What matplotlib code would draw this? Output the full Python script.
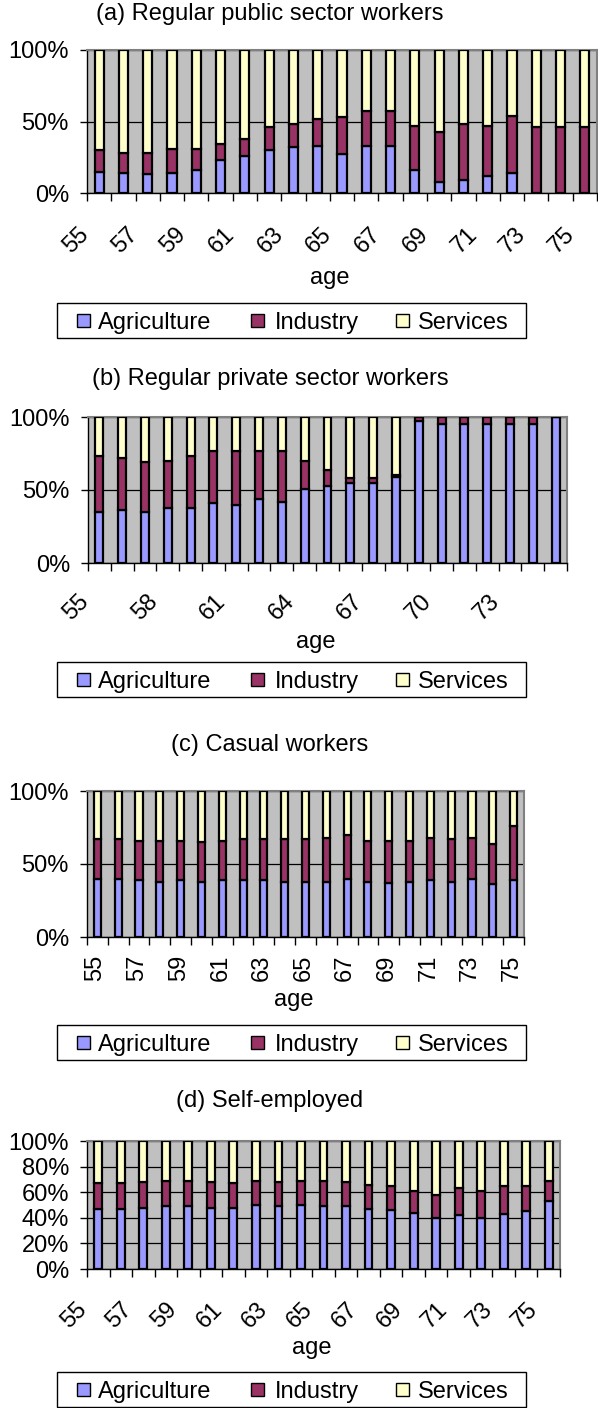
import numpy as np
import matplotlib
matplotlib.use("Agg")
from matplotlib import pyplot as plt
from matplotlib.patches import Rectangle
from matplotlib.transforms import ScaledTranslation, blended_transform_factory

plt.rcParams['font.family'] = ['Liberation Sans', 'DejaVu Sans']
plt.rcParams['font.size'] = 17

ages = list(range(55, 76))

# sector shares (%) by age, one set per type of worker
pub_agri = [15, 14, 13, 14, 16, 23, 26, 30, 32, 33, 27, 33, 33, 16, 8, 9, 12, 14, 0, 0, 0]
pub_ind = [15, 14, 15, 17, 15, 11, 12, 16, 16, 19, 26, 24, 24, 31, 35, 39, 35, 40, 46, 46, 46]
pub_serv = [70, 72, 72, 69, 69, 66, 62, 54, 52, 48, 47, 43, 43, 53, 57, 52, 53, 46, 54, 54, 54]

priv_agri = [35, 36, 35, 38, 38, 41, 40, 44, 42, 51, 53, 55, 55, 59, 97, 95, 95, 95, 95, 95, 100]
priv_ind = [38, 36, 34, 32, 35, 36, 37, 33, 35, 19, 11, 3, 3, 1, 3, 5, 5, 5, 5, 5, 0]
priv_serv = [27, 28, 31, 30, 27, 23, 23, 23, 23, 30, 36, 42, 42, 40, 0, 0, 0, 0, 0, 0, 0]

cas_agri = [40, 40, 39, 38, 39, 38, 39, 39, 39, 38, 38, 38, 40, 38, 37, 38, 39, 38, 40, 36, 39]
cas_ind = [27, 27, 27, 28, 27, 27, 27, 28, 28, 29, 29, 30, 30, 28, 29, 28, 29, 29, 28, 28, 37]
cas_serv = [33, 33, 34, 34, 34, 35, 34, 33, 33, 33, 33, 32, 30, 34, 34, 34, 32, 33, 32, 36, 24]

self_agri = [47, 47, 48, 49, 49, 48, 48, 50, 49, 50, 49, 49, 47, 46, 44, 40, 42, 40, 43, 45, 53]
self_ind = [20, 20, 20, 20, 20, 20, 19, 19, 19, 19, 20, 19, 19, 19, 17, 18, 21, 21, 22, 20, 16]
self_serv = [33, 33, 32, 31, 31, 32, 33, 31, 32, 31, 31, 32, 34, 35, 39, 42, 37, 39, 35, 35, 31]

sectors = ["Agriculture", "Industry", "Services"]
colors = ["#9999FF", "#993366", "#FFFFCC"]

W, H = 598, 1408
fig = plt.figure(figsize=(W / 100, H / 100), dpi=100)


def fx(x):
    return x / W


def fy(y):
    return 1 - y / H


def shift(dx, dy):
    # offset in pixels (y down)
    return ScaledTranslation(dx / 100, -dy / 100, fig.dpi_scale_trans)


def legend_box(top):
    h = 35
    fig.patches.append(Rectangle((fx(57), fy(top + h)), fx(526) - fx(57), h / H,
                                 transform=fig.transFigure, facecolor="white",
                                 edgecolor="black", lw=1))
    ymid = top + h / 2
    for mx, tx, name, c in zip([77, 251, 396], [98, 275, 418], sectors, colors):
        fig.patches.append(Rectangle((fx(mx), fy(ymid + 6.5)), 13 / W, 13 / H,
                                     transform=fig.transFigure, facecolor=c,
                                     edgecolor="black", lw=1))
        fig.text(fx(tx), fy(ymid), name, ha="left", va="center_baseline")


def panel(l, t, r, b, title, title_y, series, width, step, rot, yticks, lab_off,
          age_y, leg_top):
    ax = fig.add_axes([fx(l), fy(b), fx(r) - fx(l), (b - t) / H])
    x = np.arange(len(ages))
    bottom = np.zeros(len(ages))
    for vals, c in zip(series, colors):
        ax.bar(x, vals, width=width, bottom=bottom, color=c,
               edgecolor="black", linewidth=1.6, zorder=3)
        bottom += np.array(vals)

    ax.set_facecolor("#C0C0C0")
    ax.set_xlim(-0.5, len(ages) - 0.5)
    ax.set_ylim(0, 100)
    ax.set_yticks(yticks)
    ax.set_yticklabels([f"{v}%" for v in yticks])
    ax.yaxis.grid(True, color="black", lw=0.9, zorder=1)
    ax.set_axisbelow(True)
    ax.tick_params(axis="y", direction="out", length=5, width=1, pad=8)

    # ticks sit between categories
    ax.set_xticks(np.arange(-0.5, len(ages), 1))
    ax.set_xticklabels([])
    ax.tick_params(axis="x", direction="out", length=6, width=1, color="black")

    for s in ["top", "right"]:
        ax.spines[s].set_color("#808080")
        ax.spines[s].set_linewidth(1.5)
    for s in ["left", "bottom"]:
        ax.spines[s].set_color("black")
        ax.spines[s].set_linewidth(1)

    tr = blended_transform_factory(ax.transData, ax.transAxes)
    for i in range(0, len(ages), step):
        ax.text(i, 0, str(ages[i]), rotation=rot, ha="center", va="center",
                rotation_mode="anchor",
                transform=tr + shift(lab_off[0], lab_off[1]))

    fig.text(fx(270), fy(title_y), title, ha="center", va="center")
    fig.text(fx((l + r) / 2 - 12), fy(age_y), "age", ha="center", va="center")
    legend_box(leg_top)
    return ax


panel(87, 50, 597, 193, "(a) Regular public sector workers", 14,
      [pub_agri, pub_ind, pub_serv], 0.38, 2, 45, [0, 50, 100], (-23, 47), 278, 303)
panel(88, 417, 567, 563, "(b) Regular private sector workers", 379,
      [priv_agri, priv_ind, priv_serv], 0.35, 3, 45, [0, 50, 100], (-23, 44), 642, 662)
panel(87, 791, 524, 937, "(c) Casual workers", 745,
      [cas_agri, cas_ind, cas_serv], 0.34, 2, 90, [0, 50, 100], (-2, 31), 1000, 1025)
panel(87, 1141, 560, 1269, "(d) Self-employed", 1101,
      [self_agri, self_ind, self_serv], 0.35, 2, 45, list(range(0, 101, 20)), (-24, 46),
      1348, 1372)

fig.savefig("out.png", dpi=100)
